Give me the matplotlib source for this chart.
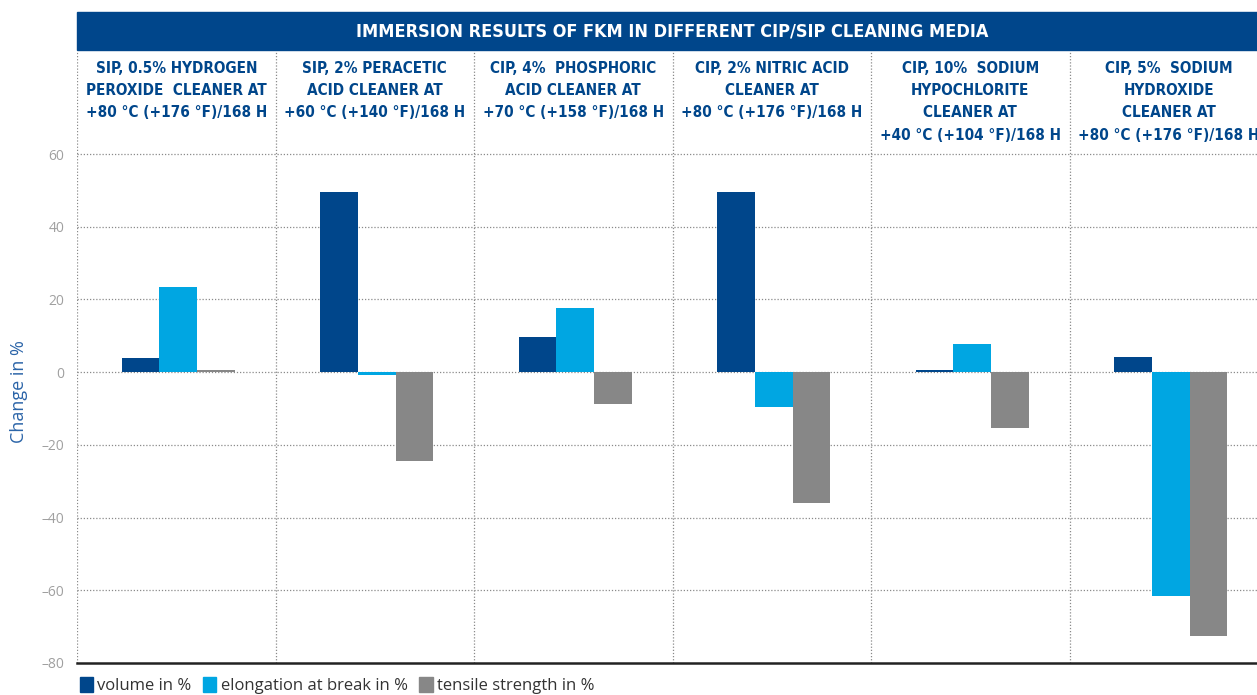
import numpy as np
import matplotlib.pyplot as plt
from matplotlib.patches import Patch, Rectangle

title = "IMMERSION RESULTS OF FKM IN DIFFERENT CIP/SIP CLEANING MEDIA"
media = [
    "SIP, 0.5% HYDROGEN\nPEROXIDE  CLEANER AT\n+80 °C (+176 °F)/168 H",
    "SIP, 2% PERACETIC\nACID CLEANER AT\n+60 °C (+140 °F)/168 H",
    "CIP, 4%  PHOSPHORIC\nACID CLEANER AT\n+70 °C (+158 °F)/168 H",
    "CIP, 2% NITRIC ACID\nCLEANER AT\n+80 °C (+176 °F)/168 H",
    "CIP, 10%  SODIUM\nHYPOCHLORITE\nCLEANER AT\n+40 °C (+104 °F)/168 H",
    "CIP, 5%  SODIUM\nHYDROXIDE\nCLEANER AT\n+80 °C (+176 °F)/168 H",
]
volume = [4.0, 49.5, 9.6, 49.5, 0.6, 4.2]
elongation = [23.5, -0.8, 17.6, -9.6, 7.7, -61.6]
tensile = [0.5, -24.5, -8.8, -36.0, -15.4, -72.5]
series_names = ["volume in %", "elongation at break in %", "tensile strength in %"]
yticks = [-80, -60, -40, -20, 0, 20, 40, 60]

c_dark = "#00468b"
c_light = "#00a6e2"
c_grey = "#878787"

W, H = 1257, 695
fig = plt.figure(figsize=(W / 100, H / 100), dpi=100)

# axes runs from the header band bottom (y=50) to the baseline (y=663),
# six columns of ~198.5 px, the last one cut by the figure edge
ax = fig.add_axes([77 / W, 1 - 663 / H, 6 * 198.5 / W, (663 - 50) / H])
ytop = 60 + (154 - 50) / ((663 - 154) / 140)
ax.set_ylim(-80, ytop)
ax.set_xlim(0, len(media))

x = np.arange(len(media)) + 0.51
bw = 0.19
ax.bar(x - bw, volume, bw, color=c_dark, zorder=3)
ax.bar(x, elongation, bw, color=c_light, zorder=3)
ax.bar(x + bw, tensile, bw, color=c_grey, zorder=3)

for yv in yticks[1:]:
    ax.axhline(yv, color="#8a8a8a", lw=0.9, ls=(0, (1, 1.5)), zorder=1)
for i in range(len(media) + 1):
    ax.axvline(i, color="#8a8a8a", lw=0.9, ls=(0, (1, 1.5)), zorder=1)

for s in ["top", "right", "left"]:
    ax.spines[s].set_visible(False)
ax.spines["bottom"].set_color("#222222")
ax.spines["bottom"].set_linewidth(1.8)
ax.spines["bottom"].set_zorder(4)

ax.set_xticks([])
ax.set_yticks(yticks)
ax.set_yticklabels([f"{v}".replace("-", "\u2013") for v in yticks],
                   fontsize=10, color="#a0a0a0", family="Open Sans")
ax.tick_params(axis="y", length=0, pad=9)

for i, txt in enumerate(media):
    ax.text(i + 0.5, ytop - 2.9, txt, ha="center", va="top", fontsize=11,
            fontweight="bold", color=c_dark, family="DejaVu Sans",
            fontstretch="condensed", linespacing=1.62)

fig.text(19 / W, 1 - 392 / H, "Change in %", rotation=90, ha="center", va="center",
         fontsize=13, color="#2b64a8", family="Open Sans")

# title band
fig.patches.append(Rectangle((77 / W, 1 - 50 / H), 1 - 77 / W, 38 / H,
                             transform=fig.transFigure, color=c_dark, zorder=0))
fig.text((77 + 6 * 198.5 / 2) / W, 1 - 31 / H, title, ha="center", va="center",
         fontsize=13, fontweight="bold", color="white", family="DejaVu Sans",
         fontstretch="condensed")

handles = [Patch(color=c) for c in (c_dark, c_light, c_grey)]
fig.legend(handles, series_names, loc="lower left", bbox_to_anchor=(73 / W, -6 / H),
           ncol=3, frameon=False, handlelength=0.8, handleheight=1.0,
           handletextpad=0.25, columnspacing=0.7, borderaxespad=0,
           prop={"family": "Open Sans", "size": 12}, labelcolor="#333333")

fig.savefig("out.png", dpi=100)
